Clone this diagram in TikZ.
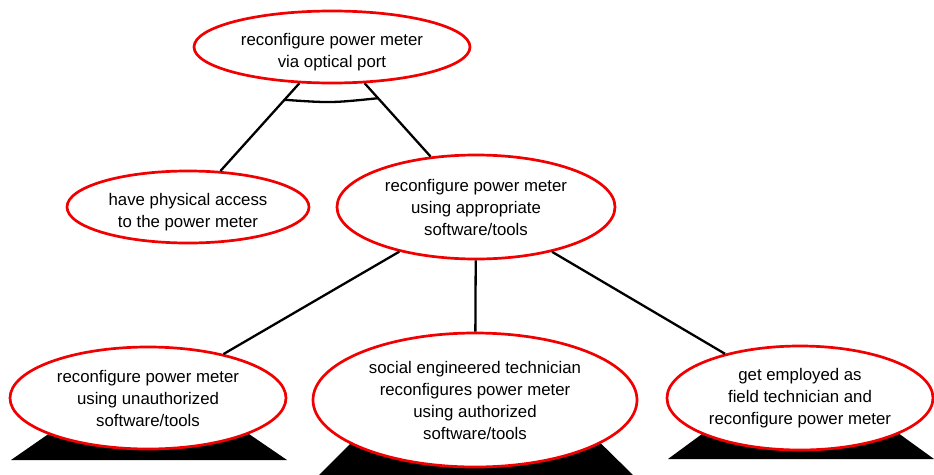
\documentclass[tikz,border=0pt]{standalone}
\usepackage{fontspec}
\setmainfont{Liberation Sans}
\usetikzlibrary{shapes.geometric,calc}
\definecolor{goalred}{RGB}{240,0,0}
\newcommand{\lowerstrut}{\rule{0pt}{22pt}}
\tikzset{
  goal/.style={ellipse, draw=goalred, line width=2.7pt, fill=white, inner sep=0pt,
    align=center, font=\fontsize{16.8}{22}\selectfont, text=black},
  link/.style={draw=black, line width=2.3pt},
  leafmark/.style={fill=black, draw=none},
}
\begin{document}
\begin{tikzpicture}[x=1pt,y=-1pt]
\useasboundingbox (0,0) rectangle (934,474);
% leaf triangles (behind the leaf ellipses)
\fill[leafmark] (11,460) -- (148,365) -- (287,460) -- cycle;
\fill[leafmark] (318,476) -- (430,364) -- (520,364) -- (634,476) -- cycle;
\fill[leafmark] (668,459) -- (800,362) -- (934,459) -- cycle;
% nodes
\node[goal, minimum width=276pt, minimum height=72pt] (top) at (332,47)
  {\lowerstrut reconfigure power meter\\via optical port};
\node[goal, minimum width=242pt, minimum height=72pt] (phys) at (188,207)
  {\lowerstrut have physical access\\to the power meter};
\node[goal, minimum width=278pt, minimum height=104pt] (mid) at (476,207)
  {reconfigure power meter\\using appropriate\\software/tools};
\node[goal, minimum width=276pt, minimum height=102pt] (bl) at (148,398)
  {reconfigure power meter\\using unauthorized\\software/tools};
\node[goal, minimum width=324pt, minimum height=134pt] (bm) at (475,400)
  {social engineered technician\\reconfigures power meter\\using authorized\\software/tools};
\node[goal, minimum width=266pt, minimum height=104pt] (br) at (800,398)
  {get employed as\\field technician and\\reconfigure power meter};
% connectors
\draw[link] (top) -- (phys);
\draw[link] (top) -- (mid);
\draw[link] (mid) -- (bl);
\draw[link] (mid) -- (bm);
\draw[link] (mid) -- (br);
% AND arc
\coordinate (andL) at ($(top.center)!0.33!(phys.center)$);
\coordinate (andR) at ($(top.center)!0.32!(mid.center)$);
\draw[link] (andL) .. controls ($(andL)!0.5!(andR)+(0,4)$) .. (andR);
\end{tikzpicture}
\end{document}
